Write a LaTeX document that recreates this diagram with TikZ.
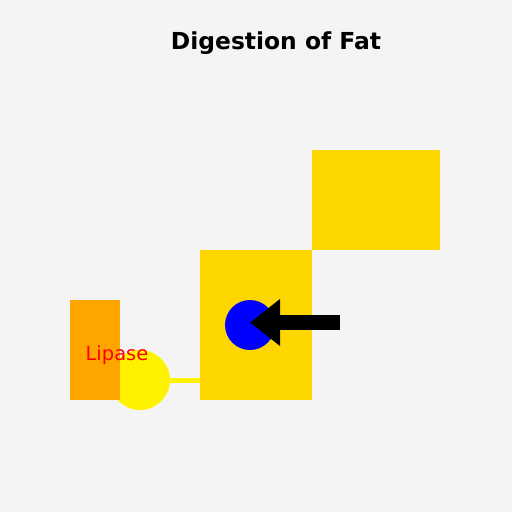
\documentclass[tikz,border=0pt]{standalone}
\usepackage{fontspec}
\setmainfont{DejaVu Sans}
\usetikzlibrary{arrows.meta}
\definecolor{bggrey}{HTML}{F4F4F4}
\definecolor{fatgold}{HTML}{FFD700}
\definecolor{lipaseorange}{HTML}{FFA500}
\begin{document}
\begin{tikzpicture}[x=1pt,y=-1pt]
\fill[bggrey] (0,0) rectangle (512,512);
\node[font=\bfseries\fontsize{23.4}{23.4}\selectfont,anchor=base] (title) at (276,49.5) {Digestion of Fat};
\fill[fatgold] (312,150) rectangle (440,250);
\node[fill=fatgold,minimum width=112pt,minimum height=150pt,inner sep=0pt,anchor=north west] (droplet) at (200,250) {};
\node[circle,fill=yellow,minimum size=60pt,inner sep=0pt] (enzyme) at (140,380) {};
\draw[yellow,line width=5pt] (enzyme.east) -- (enzyme.east -| droplet.west);
\fill[lipaseorange] (70,300) rectangle (70+50,400);
\node[circle,fill=blue,minimum size=50pt,inner sep=0pt] (bile) at (250,325) {};
\coordinate (arrowstart) at (340,322.5);
\draw[line width=15pt,-{Triangle[length=30pt,width=45pt]}] (arrowstart) -- (arrowstart -| bile.center);
\node[red,font=\fontsize{19.5}{19.5}\selectfont,anchor=base] (lipase) at (117,360) {Lipase};
\end{tikzpicture}
\end{document}
